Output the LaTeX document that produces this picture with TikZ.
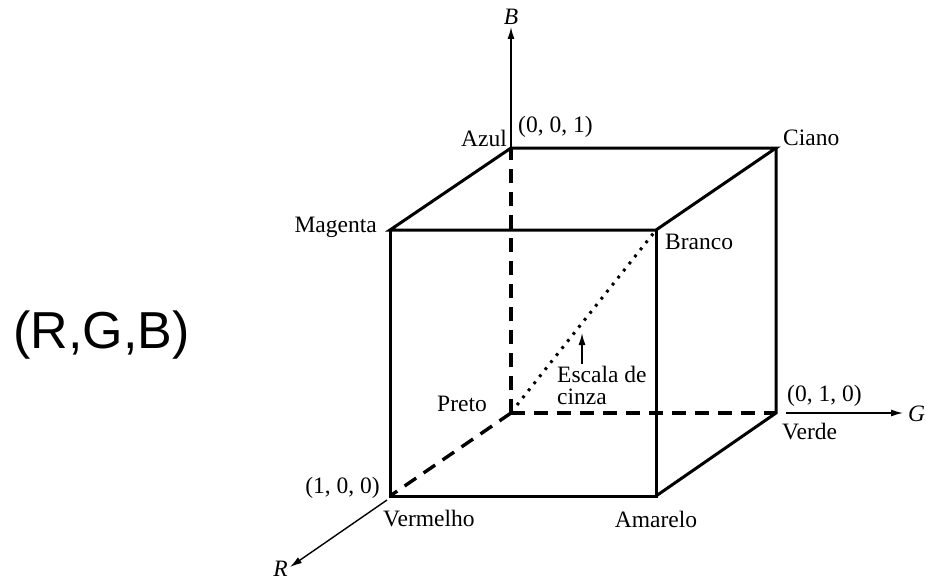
\documentclass[tikz,border=0pt]{standalone}
\usepackage{fontspec}
\setmainfont{Liberation Serif}
\newfontfamily\rgbfont{Liberation Sans}
\usetikzlibrary{arrows.meta}
\begin{document}
\begin{tikzpicture}[x=1pt,y=-1pt,
  edge/.style={line width=3pt, line join=miter},
  hidden/.style={line width=3.4pt, dash pattern=on 14pt off 9pt},
  diag/.style={line width=3pt, dash pattern=on 2.8pt off 6.2pt},
  axis/.style={line width=1.4pt, -{Latex[length=12pt,width=7pt]}},
  lbl/.style={inner sep=0pt, font=\fontsize{23.5}{22}\selectfont},
]
\useasboundingbox (0,0) rectangle (925,583);
% corners
\coordinate (K) at (511,413);
\coordinate (A) at (511,148);
\coordinate (C) at (776,148);
\coordinate (G) at (776,413);
\coordinate (M) at (390,230);
\coordinate (W) at (656,230);
\coordinate (R) at (390,496);
\coordinate (Y) at (656,496);
% axis ends
\coordinate (Btip) at (511,27);
\coordinate (Gs) at (786,413);
\coordinate (Gtip) at (903,413);
\coordinate (Rs) at (387,500);
\coordinate (Rtip) at (290,567);
\coordinate (Es) at (582,364);
\coordinate (Et) at (582,333);
\coordinate (Ds) at (517,405);
% hidden edges
\draw[hidden] (K) -- (A);
\draw[hidden] (K) -- (G);
\draw[hidden] (K) -- (R);
\draw[diag] (Ds) -- (W);
% visible edges
\draw[edge] (M) -- (A) -- (C) -- (W) -- cycle;
\draw[edge] (M) -- (R) -- (Y) -- (W);
\draw[edge] (C) -- (G) -- (Y);
% axes
\draw[axis] (A) -- (Btip);
\draw[axis] (Gs) -- (Gtip);
\draw[axis] (Rs) -- (Rtip);
\draw[axis] (Es) -- (Et);
% labels
\node[lbl, anchor=base] (lB) at (511,25) {\textit{B}};
\node[lbl, anchor=base west] (lG) at (908,421) {\textit{G}};
\node[lbl, anchor=base east] (lR) at (288,576) {\textit{R}};
\node[lbl, anchor=base east] (lAzul) at (507,146) {Azul};
\node[lbl, anchor=base west] (l001) at (518,132) {(0, 0, 1)};
\node[lbl, anchor=base west] (lCiano) at (783,145) {Ciano};
\node[lbl, anchor=base east] (lMag) at (377,232) {Magenta};
\node[lbl, anchor=base west] (lBranco) at (665,249) {Branco};
\node[lbl, anchor=base east] (lPreto) at (487,411) {Preto};
\node[lbl, anchor=base east] (l100) at (380,493) {(1, 0, 0)};
\node[lbl, anchor=base west] (lVerm) at (383,526) {Vermelho};
\node[lbl, anchor=base] (lAmar) at (656,527) {Amarelo};
\node[lbl, anchor=base west] (l010) at (787,401) {(0, 1, 0)};
\node[lbl, anchor=base west] (lVerde) at (782,439) {Verde};
\node[lbl, anchor=base west, align=left] (lEsc) at (557,404) {Escala de\\cinza};
\node[inner sep=0pt, anchor=base, font=\rgbfont\fontsize{52}{60}\selectfont] (rgb) at (101.5,348) {(R,G,B)};
\end{tikzpicture}
\end{document}
